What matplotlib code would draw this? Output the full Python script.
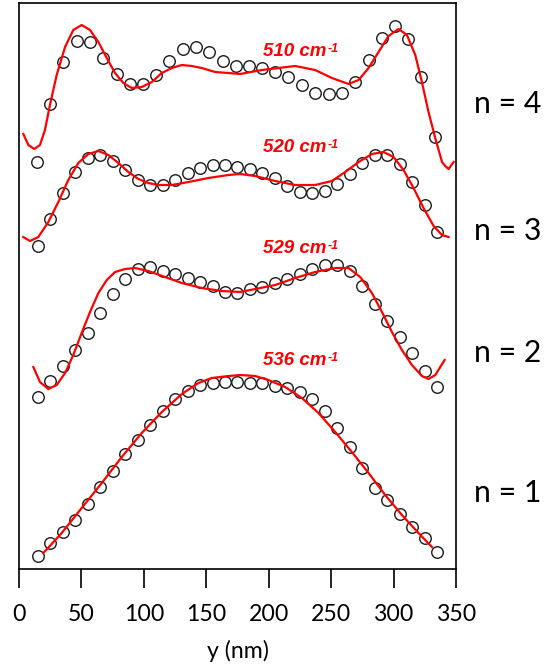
import matplotlib
matplotlib.use('Agg')
import matplotlib.pyplot as plt

plt.rcParams['font.family'] = ['Lato', 'DejaVu Sans']

# positions (nm) of the measured points
pos_n123 = [15, 25, 35, 45, 55, 65, 75, 85, 95, 105, 115, 125, 135, 145, 155, 165,
            175, 185, 195, 205, 215, 225, 235, 245, 255, 265, 275, 285, 295, 305,
            315, 325, 335]
pos_n4 = [14.2, 24.8, 35.5, 46.2, 56.9, 67.6, 78.3, 89.0, 99.1, 109.8, 120.5, 131.2,
          141.9, 152.5, 163.3, 173.9, 184.3, 195.0, 205.2, 215.8, 226.6, 237.2, 247.9,
          258.6, 269.3, 280.0, 290.7, 301.4, 311.5, 322.2, 332.9]

# measured profiles, stacked with an offset (arbitrary units)
meas_n1 = [13, 26, 37, 49, 65, 82, 98, 115, 129, 144, 158, 170, 178, 184, 186, 187,
           187, 186, 186, 183, 181, 177, 170, 158, 141, 122, 101, 81, 69, 55, 42, 31, 17]
meas_n2 = [172, 188, 203, 219, 236, 256, 275, 290, 300, 302, 298, 295, 291, 287, 283,
           277, 276, 280, 282, 286, 290, 295, 300, 304, 304, 298, 283, 265, 248, 232,
           216, 198, 182]
meas_n3 = [323, 350, 376, 397, 411, 414, 408, 399, 389, 384, 384, 389, 396, 401, 404,
           404, 402, 400, 396, 391, 383, 377, 376, 378, 385, 395, 406, 414, 414, 405,
           387, 364, 337]
meas_n4 = [407, 465, 507, 528, 527, 511, 495, 485, 485, 494, 508, 520, 522, 517, 508,
           503, 503, 501, 497, 492, 484, 476, 475, 476, 487, 509, 531, 543, 530, 492, 432]

# fitted curves
fit_x_n1 = [19.5, 34.2, 50.2, 66.3, 82.3, 98.3, 114.4, 130.4, 143.7, 154.4, 167.8,
            177.1, 189.2, 199.8, 213.2, 226.6, 239.9, 253.3, 266.6, 280.0, 293.3,
            306.7, 320.0, 330.8]
fit_n1 = [16, 36, 61, 86, 112, 136, 157, 175, 186, 191, 193, 194, 193, 189, 182, 171,
          156, 137, 117, 96, 74, 54, 36, 22]
fit_x_n2 = [11.5, 16.8, 23.5, 30.2, 36.9, 43.5, 50.2, 56.9, 63.6, 70.3, 76.9, 84.9,
            93.0, 103.6, 117.0, 130.4, 146.4, 162.5, 177.1, 189.2, 205.2, 221.2, 237.2,
            253.3, 263.9, 273.3, 282.7, 290.7, 298.7, 306.7, 314.7, 322.7, 328.0,
            333.4, 337.4, 340.9]
fit_n2 = [202, 187, 180, 184, 196, 214, 236, 257, 276, 289, 297, 300, 301, 298, 292,
          286, 281, 278, 277, 280, 284, 291, 297, 301, 301, 292, 276, 257, 237, 219,
          204, 193, 190, 194, 202, 209]
fit_x_n3 = [3.4, 8.8, 15.5, 23.5, 31.5, 39.5, 47.5, 55.5, 63.6, 71.6, 79.6, 87.6,
            95.6, 103.6, 111.6, 122.4, 135.7, 151.7, 167.8, 177.1, 189.2, 205.2, 221.2,
            237.2, 250.6, 261.3, 272.0, 282.7, 292.0, 300.0, 308.0, 316.0, 324.0,
            332.1, 338.8, 344.1]
fit_n3 = [332, 328, 332, 347, 367, 389, 406, 415, 418, 414, 406, 397, 390, 386, 384,
          384, 387, 391, 394, 395, 393, 388, 384, 384, 388, 397, 407, 415, 417, 412,
          399, 381, 361, 343, 334, 332]
fit_x_n4 = [3.5, 7.5, 12.3, 16.8, 20.8, 24.8, 30.2, 36.9, 43.5, 50.2, 56.9, 63.6, 70.3,
            76.9, 83.6, 90.3, 98.3, 106.4, 114.4, 122.4, 130.4, 138.4, 146.4, 157.1,
            167.8, 177.1, 194.5, 221.2, 237.2, 250.6, 263.9, 272.0, 280.0, 288.0,
            296.0, 304.0, 310.7, 317.4, 322.7, 328.0, 333.4, 338.8, 341.4, 344.1, 348.1]
fit_n4 = [435, 424, 420, 424, 439, 464, 494, 522, 539, 544, 539, 527, 511, 496, 486,
          481, 482, 487, 496, 501, 504, 503, 501, 497, 496, 495, 499, 503, 499, 491,
          485, 489, 501, 517, 533, 540, 534, 514, 487, 457, 431, 407, 403, 400, 407]

mode_labels = ['n = 1', 'n = 2', 'n = 3', 'n = 4']
mode_label_y = [67, 207, 329, 456]
freqs = ['536', '529', '520', '510']
freq_label_y = [204, 316, 417, 513]

fig = plt.figure(figsize=(5.47, 6.66), dpi=100)
ax = fig.add_axes([0.0347, 0.1456, 0.7989, 0.8499])

measured = [(pos_n123, meas_n1), (pos_n123, meas_n2), (pos_n123, meas_n3), (pos_n4, meas_n4)]
fits = [(fit_x_n1, fit_n1), (fit_x_n2, fit_n2), (fit_x_n3, fit_n3), (fit_x_n4, fit_n4)]

for (xs, ys) in measured:
    ax.plot(xs, ys, 'o', ms=8.3, mfc='none', mec='#1a1a1a', mew=1.0, zorder=2)
for (xs, ys) in fits:
    ax.plot(xs, ys, color='#ff0000', lw=1.6, zorder=3)

# frequency labels inside the frame, mode labels to the right of it
red_font = dict(family=['Liberation Sans', 'DejaVu Sans'], fontweight='bold',
                fontstyle='italic', color='#ff0000')
for f, yl in zip(freqs, freq_label_y):
    t = ax.text(195.8, yl, f + ' cm', fontsize=13.5, va='baseline', ha='left', **red_font)
    # superscript "-1" hooked to the top right corner of the main label
    ax.annotate('-1', xy=(1.0, 0.98), xycoords=t, xytext=(0.5, 0),
                textcoords='offset points', fontsize=9, va='top', ha='left', **red_font)
for lab, yl in zip(mode_labels, mode_label_y):
    ax.text(364.7, yl, lab, fontsize=21.7, va='baseline', ha='left', clip_on=False)

ax.set_xlim(0, 350)
ax.set_ylim(0, 566)
ax.set_xticks([0, 50, 100, 150, 200, 250, 300, 350])
ax.set_yticks([])
ax.tick_params(axis='x', direction='out', length=14, width=1.2, pad=11, labelsize=16.7)
for sp in ax.spines.values():
    sp.set_linewidth(1.2)
ax.set_xlabel('y (nm)', fontsize=16.7, labelpad=11)

fig.savefig('out.png', dpi=100)
